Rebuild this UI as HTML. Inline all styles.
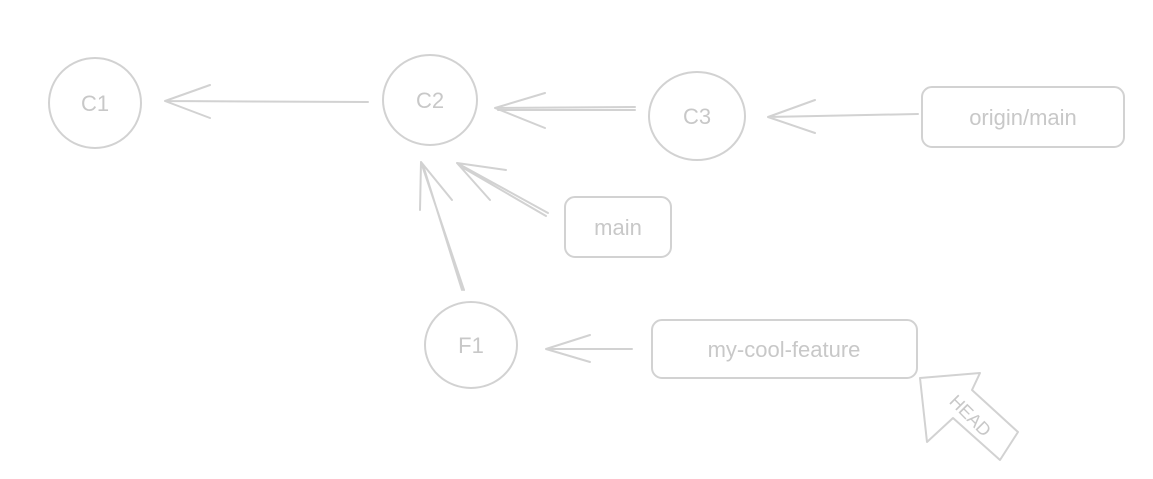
<!DOCTYPE html>
<html><head><style>html,body{margin:0;padding:0;background:#fff}svg{display:block}</style></head>
<body>
<svg width="1153" height="479" viewBox="0 0 1153 479" xmlns="http://www.w3.org/2000/svg">
<g fill="none" stroke="#d2d2d2" stroke-width="2" stroke-linecap="round" stroke-linejoin="round">
<ellipse cx="95" cy="103" rx="46" ry="45"/>
<ellipse cx="430" cy="100" rx="47" ry="45"/>
<ellipse cx="697" cy="116" rx="48" ry="44"/>
<ellipse cx="471" cy="345" rx="46" ry="43"/>
<rect x="922" y="87" width="202" height="60" rx="10"/>
<rect x="565" y="197" width="106" height="60" rx="10"/>
<rect x="652" y="320" width="265" height="58" rx="10"/>
<path d="M368 102 L165 101 M210 85 L165 101 L210 118"/>
<path d="M635 107 L495 108 M635 110 L498 110 M545 93 L495 108 L545 128"/>
<path d="M918 114 L768 117 M815 100 L768 117 L815 133"/>
<path d="M548 213 L457 163 M546 216 L460 166 M506 170 L457 163 L490 200"/>
<path d="M464 290 L421 162 M462 290 L423 165 M420 210 L421 162 L452 200"/>
<path d="M632 349 L546 349 M590 335 L546 349 L590 362"/>
<path d="M920 378 L980 373 L972 390 L1018 432 L1000 460 L953 418 L927 442 Z"/>
</g>
<g fill="#c8c8c8" font-family="'Liberation Sans', sans-serif" font-size="22" text-anchor="middle">
<text x="95" y="111">C1</text>
<text x="430" y="108">C2</text>
<text x="697" y="124">C3</text>
<text x="471" y="353">F1</text>
<text x="1023" y="125">origin/main</text>
<text x="618" y="235">main</text>
<text x="784" y="357">my-cool-feature</text>
<text x="0" y="0" font-size="18" transform="translate(966,420) rotate(45)">HEAD</text>
</g>
</svg>
</body></html>
